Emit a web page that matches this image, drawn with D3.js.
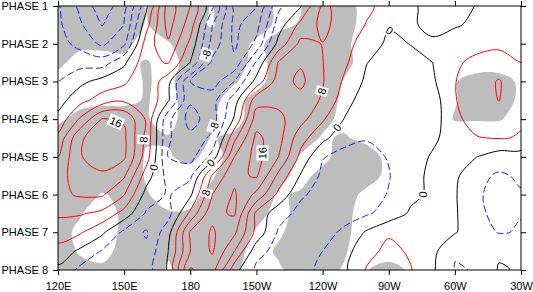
<!DOCTYPE html>
<html>
<head>
<meta charset="utf-8">
<script src="https://cdn.jsdelivr.net/npm/d3@7"></script>
<style>
  body { margin: 0; background: #fff; }
  svg { display: block; font-family: "Liberation Sans", Arial, Helvetica, sans-serif; }
</style>
</head>
<body>
<svg id="chart" width="533" height="292"></svg>
<script>
// grid columns (deg east) and rows (MJO phase)
const lons = [120, 130, 140, 150, 160, 170, 180, 190, 200, 210, 220, 230, 240, 250, 260, 270, 280, 290, 300, 310, 320, 330];
const phases = [1, 1.5, 2, 2.5, 3, 3.5, 4, 4.5, 5, 5.5, 6, 6.5, 7, 7.5, 8];

// anomaly field, one row per phase
const anom = [
  [-7.5, -13.1, -18.5, -13.7, -1.3, 14, 8, -3.2, -17.5, -16.2, -5, -0.4, 8.8, 6.5, 4.7, 2.7, 0.7, -1.5, -1.5, 0.2, 2, 1.5],
  [-7.2, -11.4, -16.2, -12, 2.5, 13.5, 6, -8, -17, -13.5, -2.1, 5.2, 9, 6.2, 3.8, 0.3, 0.5, -1, -0.4, 0.8, 2.5, 2],
  [-6.5, -9.2, -12.8, -8.8, 5.9, 11.5, 3, -9.5, -16.8, -11, 1.4, 9, 7.9, 5.5, 2.1, -0.8, 0.1, 0.6, 2, 3, 3.5, 3],
  [-5.4, -5.5, -6, -0.8, 6.9, 8.3, -0.2, -13, -15, -3.4, 8.3, 11.5, 8.1, 4.8, 0.1, -1.6, -1, 0, 3.5, 4.8, 5, 4],
  [-4.1, -1.1, 1.5, 3.2, 7.8, 1.3, -12, -14, -8, 1.5, 10, 13, 8.3, 3.3, -0.8, -3.8, -2.5, -0.6, 3.9, 5.5, 8.4, 4.2],
  [-1.7, 2.7, 5.8, 7.3, 7.8, 0.5, -11.5, -9.5, -2, 10.5, 11, 10.5, 7.5, 1.8, -2.5, -3.5, -3, -2, 3.8, 6, 8.1, 4.5],
  [1.2, 8.5, 16.2, 15.6, 7.5, -7, -13.5, -10, 0.6, 14, 13, 9.5, 4.5, -0.2, -3, -3.5, -3, -2, 3.2, 5.5, 6, 4.3],
  [5, 15.5, 18, 16.8, 6.8, -7.5, -11, -7, 7, 17, 13.5, 5.5, 1.2, -3, -3.8, -3.8, -3.5, -1, 2.5, 3.8, 4.2, 3.8],
  [8, 15.8, 17.5, 16.6, 6, -8, -9.5, -2.5, 12, 17.5, 12, 3, -3.8, -5, -5, -3.8, -2.5, 0.6, 1.5, 0, -2, -2],
  [10.5, 14, 15.5, 12.5, 2, -5.5, -5, 8.5, 15, 16.5, 7, -0.3, -4.8, -5.5, -5.5, -4.2, -1.5, 1, 0.8, -3, -4.5, -3.5],
  [11, 12.5, 12.5, 8.2, -1.5, -4.5, -0.8, 12, 16.5, 11, 3, -3.5, -5.2, -5.5, -5.5, -3.8, -1, 0.8, 0.4, -3.6, -5, -4.3],
  [8.6, 8.4, 7, 2.5, -4.5, -5.5, 5, 15, 16.5, 3, -2.5, -5, -5.5, -5, -4.5, -2.5, 0.6, 1.5, 0.5, -3.4, -4.8, -4.1],
  [5.8, 4.5, 0.8, -5, -8.5, -1.5, 12.5, 16.5, 12.8, 2.8, -4.5, -6, -5, -3.5, 0.5, 3.5, 2.5, 1.5, 0.3, -2.5, -4.2, -3.8],
  [2.6, -0.8, -4.3, -6, -7, 0, 12, 16.5, 8, -2.5, -5.5, -5, -4, -1.5, 2.8, 5, 3.5, 1, -3.6, -2, -0.5, -1],
  [-1, -5, -7, -7.5, -6, 0.5, 16.5, 13.5, 1.5, -5, -5.5, -4.8, -3.5, -0.8, 4.3, 6, 4.2, 0.5, -4.3, -3.8, 0.3, -0.3]
];

// significance (0-9 per grid point, shaded above 4.5)
const signif = [
  "9999487498349720000000",
  "9999486498359720000000",
  "8666248883799610000000",
  "6223527882799620000000",
  "2002538852899400004883",
  "1233528627998300004883",
  "3788528528986300005552",
  "8999558469974530000000",
  "9999446279843773000000",
  "9998412489636873000000",
  "9846523698457730000000",
  "8516755886367620000000",
  "7316856874467610000000",
  "7427856863566510000000",
  "7667746853466448300000"
];

const levels = [-16, -12, -8, -4, 0, 4, 8, 12, 16];
const xTicks = [120, 150, 180, 210, 240, 270, 300, 330];
const xTickLabels = ["120E", "150E", "180", "150W", "120W", "90W", "60W", "30W"];
const yTicks = [1, 2, 3, 4, 5, 6, 7, 8];
const yTickLabels = ["PHASE 1", "PHASE 2", "PHASE 3", "PHASE 4", "PHASE 5", "PHASE 6", "PHASE 7", "PHASE 8"];

// where the contour labels sit (level, lon, phase)
const labelSpots = [
  [16, 147, 3.97], [8, 160.4, 4.55], [0, 164.9, 5.3], [-8, 187.6, 2.3],
  [-8, 192.1, 4.24], [16, 213, 4.9], [8, 241, 3.28], [0, 190.3, 5.22],
  [8, 187.6, 5.96], [0, 247, 4.24], [0, 272.8, 1.45], [0, 286.4, 6.01]
];

const svg = d3.select("#chart");
const x = d3.scaleLinear().domain([120, 330]).range([58, 521]);
const y = d3.scaleLinear().domain([1, 8]).range([6, 270]);
const nx = lons.length, ny = phases.length;
const dLon = lons[1] - lons[0], dPh = phases[1] - phases[0];

// d3.contours puts grid value i at coordinate i + 0.5
const toPx = p => [x(lons[0] + (p[0] - 0.5) * dLon), y(phases[0] + (p[1] - 0.5) * dPh)];
const ringLine = d3.line().curve(d3.curveCatmullRomClosed.alpha(0.5));
const mpPath = mp => mp.coordinates.map(poly =>
  poly.map(ring => ringLine(ring.slice(0, -1).map(toPx))).join("")).join("");

svg.append("clipPath").attr("id", "plot")
  .append("rect").attr("x", 58).attr("y", 6).attr("width", 463).attr("height", 264);

const g = svg.append("g").attr("clip-path", "url(#plot)");

// gray shading
const sigVals = signif.map(s => s.split("").map(Number)).flat();
const sigCont = d3.contours().size([nx, ny]).thresholds([4.5])(sigVals);
g.append("path")
  .attr("d", mpPath(sigCont[0]))
  .attr("fill", "#bdbdbd")
  .attr("fill-rule", "evenodd");

// contour lines
const cont = d3.contours().size([nx, ny]).thresholds(levels)(anom.flat());
g.selectAll(".cl")
  .data(cont)
  .enter().append("path")
  .attr("class", "cl")
  .attr("d", d => mpPath(d))
  .attr("fill", "none")
  .attr("stroke", d => d.value < 0 ? "#1a1aff" : d.value > 0 ? "#ff0000" : "#000")
  .attr("stroke-width", 1)
  .attr("stroke-dasharray", d => d.value < 0 ? "7,3" : null);

// contour labels, snapped to the nearest piece of their line
function snap(level, lon, ph) {
  const c = cont.find(d => d.value === level);
  const px = x(lon), py = y(ph);
  let best = null;
  c.coordinates.forEach(poly => poly.forEach(ring => {
    const pts = ring.map(toPx);
    for (let i = 0; i < pts.length - 1; i++) {
      const a = pts[i], b = pts[i + 1];
      const vx = b[0] - a[0], vy = b[1] - a[1];
      const len2 = vx * vx + vy * vy || 1;
      let t = ((px - a[0]) * vx + (py - a[1]) * vy) / len2;
      t = Math.max(0, Math.min(1, t));
      const qx = a[0] + t * vx, qy = a[1] + t * vy;
      if (qx < 60 || qx > 519 || qy < 8 || qy > 268) continue;
      const dd = (qx - px) ** 2 + (qy - py) ** 2;
      if (!best || dd < best.dd) best = { dd, qx, qy, ang: Math.atan2(vy, vx) * 180 / Math.PI };
    }
  }));
  return best;
}

labelSpots.forEach(([lev, lon, ph]) => {
  const s = snap(lev, lon, ph);
  if (!s) return;
  let ang = s.ang;
  if (ang > 90) ang -= 180;
  if (ang < -90) ang += 180;
  const lg = svg.append("g").attr("transform", `translate(${s.qx},${s.qy}) rotate(${ang})`);
  const rect = lg.append("rect").attr("fill", "#fff");
  const txt = lg.append("text")
    .attr("text-anchor", "middle")
    .attr("dy", "0.36em")
    .attr("font-size", 11)
    .text(lev);
  const bb = txt.node().getBBox();
  rect.attr("x", bb.x - 1.5).attr("y", bb.y).attr("width", bb.width + 3).attr("height", bb.height);
});

// frame and axes
svg.append("rect")
  .attr("x", 58).attr("y", 6).attr("width", 463).attr("height", 264)
  .attr("fill", "none").attr("stroke", "#000").attr("stroke-width", 1);

function styleAxis(sel) {
  sel.select(".domain").remove();
  sel.selectAll("line").attr("stroke", "#000");
  sel.selectAll("text").attr("font-size", 11).attr("fill", "#000")
    .attr("font-family", "'Liberation Sans', Arial, Helvetica, sans-serif");
}

svg.append("g").attr("transform", "translate(0,270)")
  .call(d3.axisBottom(x).tickValues(xTicks).tickFormat((d, i) => xTickLabels[i]).tickSize(5).tickPadding(7))
  .call(styleAxis);
svg.append("g").attr("transform", "translate(0,6)")
  .call(d3.axisTop(x).tickValues(xTicks).tickFormat("").tickSize(5))
  .call(styleAxis);
svg.append("g").attr("transform", "translate(58,0)")
  .call(d3.axisLeft(y).tickValues(yTicks).tickFormat((d, i) => yTickLabels[i]).tickSize(5).tickPadding(5))
  .call(styleAxis);
svg.append("g").attr("transform", "translate(521,0)")
  .call(d3.axisRight(y).tickValues(yTicks).tickFormat("").tickSize(5))
  .call(styleAxis);
</script>
</body>
</html>
